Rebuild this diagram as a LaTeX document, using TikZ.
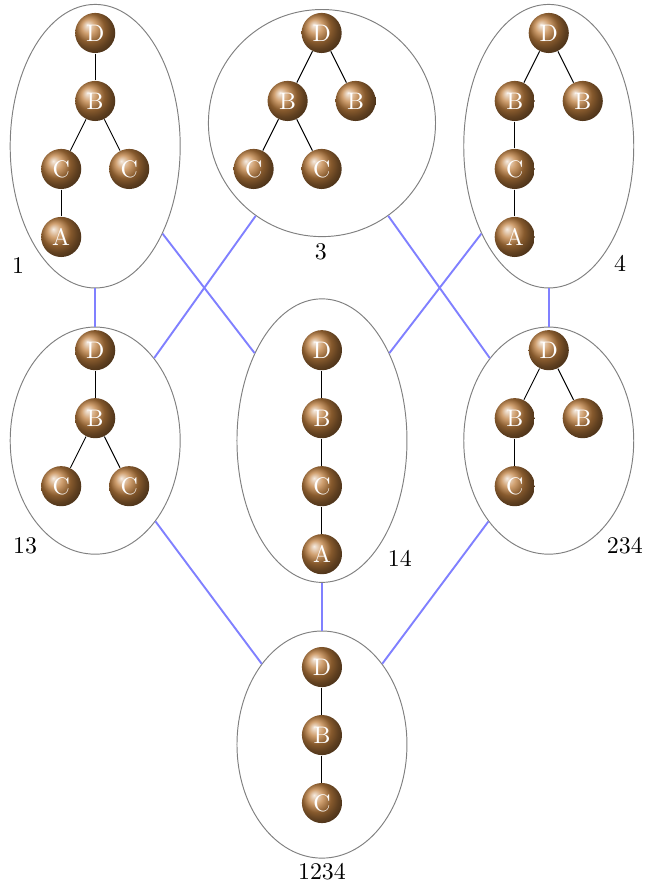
\documentclass[tikz,border=0pt]{standalone}
\usepackage{amsmath}
\usepackage{tikz}
\usetikzlibrary{shapes.geometric,positioning}

\begin{document}
\begin{tikzpicture}[-,auto,node distance=1cm,on grid]
\tikzstyle{ball}=[circle,shading=ball,ball color=brown,text=white,minimum size=0.59cm,inner sep=0pt]
\tikzstyle{set}=[ellipse,draw=black!50,minimum width=2.5cm,minimum height=4.17cm,inner sep=0pt]
\tikzstyle{link}=[draw=blue!50,thick]

\useasboundingbox (0,0) rectangle (9.485,-13.03);

% the sets of the lattice
\node [set] (1) at (1.4,-2.15) {};
\node [set,minimum width=3.34cm,minimum height=3.34cm] (3) at (4.735,-1.81) {};
\node [set] (4) at (8.07,-2.15) {};
\node [set,minimum height=3.34cm] (13) at (1.4,-6.48) {};
\node [set] (14) at (4.735,-6.48) {};
\node [set,minimum height=3.34cm] (234) at (8.07,-6.48) {};
\node [set,minimum height=3.34cm] (1234) at (4.735,-10.95) {};

\node (l1) at (0.265,-3.9) {1};
\node (l3) at (4.72,-3.71) {3};
\node (l4) at (9.12,-3.88) {4};
\node (l13) at (0.37,-8.03) {13};
\node (l14) at (5.88,-8.21) {14};
\node (l234) at (9.19,-8.03) {234};
\node (l1234) at (4.735,-12.82) {1234};

\path [link] (1) edge (13)
	(1) edge (14)
	(3) edge (13)
	(3) edge (234)
	(4) edge (14)
	(4) edge (234)
	(13) edge (1234)
	(14) edge (1234)
	(234) edge (1234);

% trees inside the sets
\node [ball] (1d) at (1.4,-0.485) {D};
\node [ball] (1b) [below=of 1d] {B};
\node [ball] (1c1) [below left=1cm and 0.5cm of 1b] {C};
\node [ball] (1c2) [below right=1cm and 0.5cm of 1b] {C};
\node [ball] (1a) [below=of 1c1] {A};
\path (1d) edge (1b)
	(1b) edge (1c1)
	(1b) edge (1c2)
	(1c1) edge (1a);

\node [ball] (3d) at (4.73,-0.485) {D};
\node [ball] (3b1) [below left=1cm and 0.5cm of 3d] {B};
\node [ball] (3b2) [below right=1cm and 0.5cm of 3d] {B};
\node [ball] (3c1) [below left=1cm and 0.5cm of 3b1] {C};
\node [ball] (3c2) [below right=1cm and 0.5cm of 3b1] {C};
\path (3d) edge (3b1)
	(3d) edge (3b2)
	(3b1) edge (3c1)
	(3b1) edge (3c2);

\node [ball] (4d) at (8.07,-0.485) {D};
\node [ball] (4b1) [below left=1cm and 0.5cm of 4d] {B};
\node [ball] (4b2) [below right=1cm and 0.5cm of 4d] {B};
\node [ball] (4c) [below=of 4b1] {C};
\node [ball] (4a) [below=of 4c] {A};
\path (4d) edge (4b1)
	(4d) edge (4b2)
	(4b1) edge (4c)
	(4c) edge (4a);

\node [ball] (13d) at (1.4,-5.15) {D};
\node [ball] (13b) [below=of 13d] {B};
\node [ball] (13c1) [below left=1cm and 0.5cm of 13b] {C};
\node [ball] (13c2) [below right=1cm and 0.5cm of 13b] {C};
\path (13d) edge (13b)
	(13b) edge (13c1)
	(13b) edge (13c2);

\node [ball] (14d) at (4.735,-5.15) {D};
\node [ball] (14b) [below=of 14d] {B};
\node [ball] (14c) [below=of 14b] {C};
\node [ball] (14a) [below=of 14c] {A};
\path (14d) edge (14b)
	(14b) edge (14c)
	(14c) edge (14a);

\node [ball] (234d) at (8.07,-5.15) {D};
\node [ball] (234b1) [below left=1cm and 0.5cm of 234d] {B};
\node [ball] (234b2) [below right=1cm and 0.5cm of 234d] {B};
\node [ball] (234c) [below=of 234b1] {C};
\path (234d) edge (234b1)
	(234d) edge (234b2)
	(234b1) edge (234c);

\node [ball] (1234d) at (4.735,-9.81) {D};
\node [ball] (1234b) [below=of 1234d] {B};
\node [ball] (1234c) [below=of 1234b] {C};
\path (1234d) edge (1234b)
	(1234b) edge (1234c);
\end{tikzpicture}
\end{document}
